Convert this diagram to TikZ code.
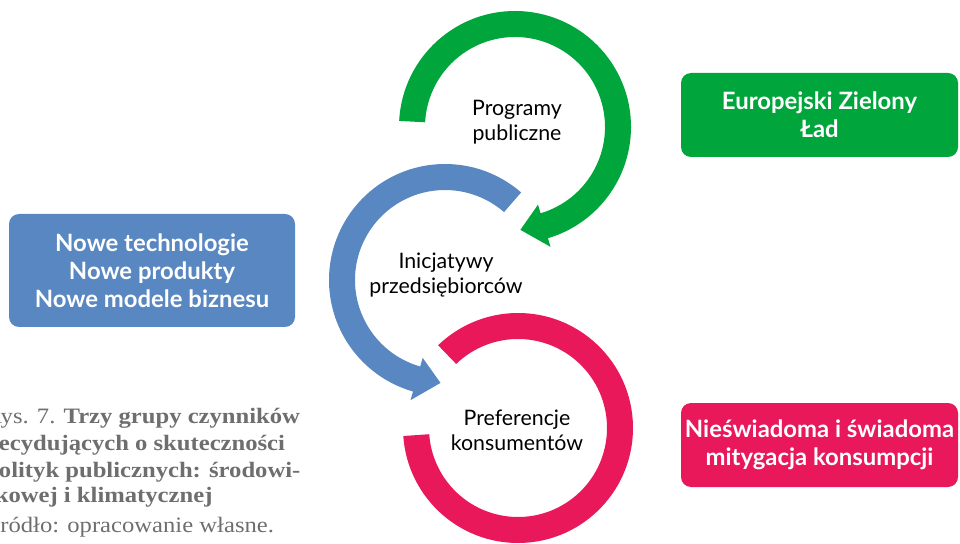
\documentclass[tikz,border=0pt]{standalone}
\usepackage{fontspec}
\setmainfont{Lato}
\newfontfamily\podpisfont[FakeStretch=1.12]{Liberation Serif}
\usepackage{tikz}
\definecolor{zielony}{RGB}{0,165,60}
\definecolor{niebieski}{RGB}{88,135,193}
\definecolor{malinowy}{RGB}{232,24,90}
\definecolor{szary}{RGB}{110,110,110}
\tikzset{
    pole/.style={rounded corners=7.5pt, text=white, align=center, inner sep=0pt,
        font=\fontsize{17.9}{21}\selectfont\bfseries},
    opis/.style={align=center, text=black, inner sep=0pt,
        font=\fontsize{16}{19}\selectfont},
    podpis/.style={anchor=base west, text=szary, inner sep=0pt,
        font=\podpisfont\fontsize{16.5}{20}\selectfont}
}

\begin{document}
\begin{tikzpicture}[x=0.75pt,y=0.75pt]
    \useasboundingbox (0,0) rectangle (960,543);
    \clip (0,0) rectangle (960,543);
    \coordinate (programy) at (515,416);
    \coordinate (inicjatywy) at (445,263);
    \coordinate (preferencje) at (518,115);

    \fill[zielony, shift={(programy)}] (177:116) arc[start angle=177, end angle=-73.5, radius=116]
        -- (-73.5:125) -- (-87:103) -- (-73.5:81) -- (-73.5:90)
        arc[start angle=-73.5, end angle=177, radius=90] -- cycle;
    \fill[niebieski, shift={(inicjatywy)}] (49:116) arc[start angle=49, end angle=254, radius=116]
        -- (254:125) -- (267.5:103) -- (254:81) -- (254:90)
        arc[start angle=254, end angle=49, radius=90] -- cycle;
    \fill[malinowy, shift={(preferencje)}] (184:115) arc[start angle=184, end angle=494, radius=115]
        -- (134:89) arc[start angle=494, end angle=184, radius=89] -- cycle;

    \node[opis] (t-programy) at (517,421) {Programy\\publiczne};
    \node[opis] (t-inicjatywy) at (446,268) {Inicjatywy\\przedsiębiorców};
    \node[opis] (t-preferencje) at (517,113) {Preferencje\\konsumentów};

    \node[pole, fill=zielony, minimum width=207.75pt, minimum height=63pt] (lad) at (819.5,428)
        {Europejski Zielony\\Ład};
    \node[pole, fill=niebieski, minimum width=214.5pt, minimum height=84.75pt] (nowe) at (152,272.5)
        {Nowe technologie\\Nowe produkty\\Nowe modele biznesu};
    \node[pole, fill=malinowy, minimum width=207.75pt, minimum height=63pt] (mitygacja) at (819.5,98)
        {Nieświadoma i świadoma\\mitygacja konsumpcji};

    \node[podpis] (rys1) at (-15,120) {Rys. 7. \textbf{Trzy grupy czynników}};
    \node[podpis] (rys2) at (-15,93) {\textbf{decydujących o skuteczności}};
    \node[podpis] (rys3) at (-15,66) {\textbf{polityk publicznych: środowi-}};
    \node[podpis] (rys4) at (-15,41) {\textbf{skowej i klimatycznej}};
    \node[podpis] (rys5) at (-15,11) {Źródło: opracowanie własne.};
\end{tikzpicture}
\end{document}
